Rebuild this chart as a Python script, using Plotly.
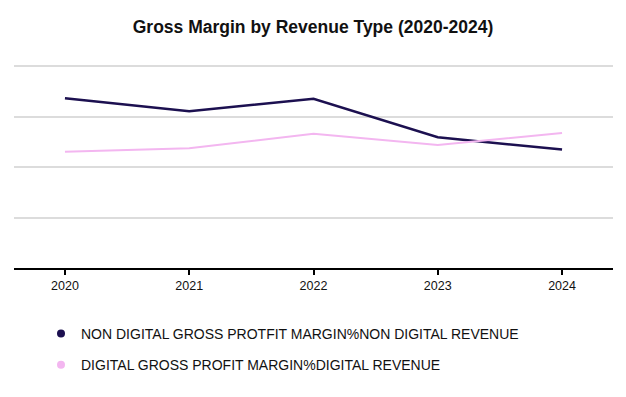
import plotly.graph_objects as go

years = ["2020", "2021", "2022", "2023", "2024"]
non_digital_margin = [67.2, 62.1, 67.0, 51.8, 46.9]
digital_margin = [46.1, 47.4, 53.2, 48.7, 53.5]

series_names = [
    "NON DIGITAL GROSS PROTFIT MARGIN%NON DIGITAL REVENUE",
    "DIGITAL GROSS PROFIT MARGIN%DIGITAL REVENUE",
]
colors = ["#1c1050", "#f3b6f0"]
widths = [2.5, 2.0]

W, H = 626, 397
fig = go.Figure()

for vals, name, c, w in zip([non_digital_margin, digital_margin], series_names, colors, widths):
    fig.add_trace(go.Scatter(
        x=list(range(len(years))), y=vals, mode="lines",
        line=dict(color=c, width=w), name=name, showlegend=False,
        hoverinfo="x+y",
    ))

for i, (name, c) in enumerate(zip(series_names, colors)):
    fig.add_trace(go.Scatter(
        x=[None], y=[None], mode="markers",
        marker=dict(color=c, size=8), name=name,
        legendgroup=f"g{i}", showlegend=True,
    ))

left, right = 14, 613
top_y, axis_y = 61, 268
fig.update_layout(
    width=W, height=H,
    margin=dict(l=left, r=W - right, t=top_y, b=H - axis_y, pad=0, autoexpand=False),
    paper_bgcolor="white", plot_bgcolor="white",
    font=dict(family="Liberation Sans, Arial, sans-serif", color="#111111"),
    title=dict(
        text="<b>Gross Margin by Revenue Type (2020-2024)</b>",
        x=0.5, xref="container", xanchor="center",
        y=1 - 27 / H, yref="container", yanchor="middle",
        font=dict(size=17.5, color="#111111"),
    ),
    xaxis=dict(
        tickmode="array", tickvals=list(range(len(years))), ticktext=years,
        range=[-0.41, 4.41], showgrid=False, zeroline=False,
        showline=True, linecolor="#000000", linewidth=2,
        ticks="outside", ticklen=5, tickwidth=1.5, tickcolor="#000000",
        tickfont=dict(size=12.5, color="#111111"), tickangle=0, fixedrange=True,
    ),
    yaxis=dict(
        range=[0, 82], tickmode="array", tickvals=[20, 40, 60, 80],
        showticklabels=False, showgrid=True, gridcolor="#dcdcdc", gridwidth=1.5,
        zeroline=False, showline=False, ticks="", fixedrange=True,
    ),
    legend=dict(
        orientation="v", xref="container", yref="container",
        x=41 / W, xanchor="left", y=1 - 318 / H, yanchor="top",
        font=dict(size=14, color="#111111"),
        traceorder="grouped", tracegroupgap=10,
        itemwidth=30, bgcolor="rgba(0,0,0,0)",
    ),
    showlegend=True,
)

fig.write_html(
    "out.html",
    config={"displayModeBar": False},
    post_script="document.body.style.margin='0';",
)
